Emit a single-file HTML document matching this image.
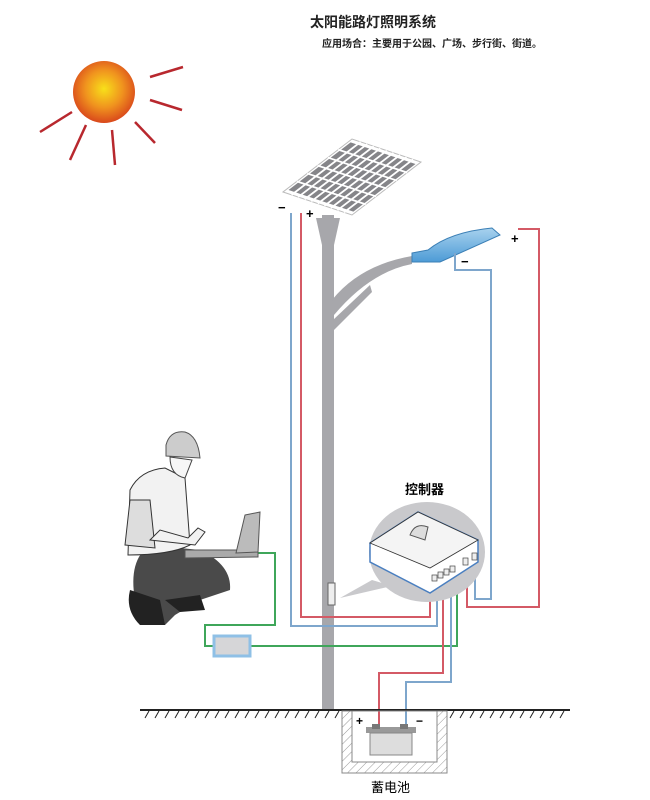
<!DOCTYPE html>
<html><head><meta charset="utf-8"><style>
body{margin:0;background:#fff;}
svg{display:block}
text{font-family:"Liberation Sans","Noto Sans CJK SC",sans-serif;}
</style></head><body>
<svg width="650" height="800" viewBox="0 0 650 800" xmlns="http://www.w3.org/2000/svg">
<defs>
<radialGradient id="sun" cx="50%" cy="45%" r="55%"><stop offset="0" stop-color="#f8e01a"/><stop offset="0.55" stop-color="#f0931e"/><stop offset="1" stop-color="#d9481c"/></radialGradient>
<pattern id="hatch" width="6" height="6" patternUnits="userSpaceOnUse" patternTransform="rotate(45)"><line x1="0" y1="0" x2="0" y2="6" stroke="#999" stroke-width="1"/></pattern>
<linearGradient id="lamp" x1="0" y1="0" x2="0" y2="1"><stop offset="0" stop-color="#a8d2ee"/><stop offset="1" stop-color="#4d9bd6"/></linearGradient>
</defs>
<text x="310" y="27" font-size="14" font-weight="bold" fill="#222">太阳能路灯照明系统</text>
<text x="322" y="47" font-size="10" fill="#222" font-weight="bold">应用场合：主要用于公园、广场、步行街、街道。</text>
<!-- sun -->
<g stroke="#b8282e" stroke-width="2.5">
<line x1="150" y1="77" x2="183" y2="67"/><line x1="150" y1="100" x2="182" y2="110"/>
<line x1="135" y1="122" x2="155" y2="143"/><line x1="112" y1="130" x2="115" y2="165"/>
<line x1="86" y1="125" x2="70" y2="160"/><line x1="72" y1="112" x2="40" y2="132"/>
</g>
<circle cx="104" cy="92" r="31" fill="url(#sun)"/>
<!-- pole -->
<rect x="322" y="215" width="12" height="495" fill="#a7a7ab"/>
<path d="M316 218 L340 218 L334 245 L322 245Z" fill="#a7a7ab"/>
<path d="M332 300 Q360 265 412 256 L412 264 Q370 272 334 315Z" fill="#a7a7ab"/>
<path d="M333 320 L370 285 L372 292 L334 330Z" fill="#a7a7ab"/>
<rect x="328" y="583" width="7" height="22" fill="#eee" stroke="#666"/>
<!-- panel -->
<g transform="matrix(69,23,69,-53,283,192)">
<polygon points="0,0 1,0 1,1 0,1" fill="#fff" stroke="#bbb" stroke-width="1" vector-effect="non-scaling-stroke"/>
<polygon points="0.03,0.05 0.97,0.05 0.97,0.95 0.03,0.95" fill="#858589"/>
<path d="M0.125 0V1 M0.22 0V1 M0.315 0V1 M0.41 0V1 M0.505 0V1 M0.6 0V1 M0.695 0V1 M0.79 0V1 M0.885 0V1 M0 0.2H1 M0 0.35H1 M0 0.5H1 M0 0.65H1 M0 0.8H1" stroke="#fff" stroke-width="1.8" vector-effect="non-scaling-stroke"/>
</g>
<!-- lamp head -->
<path d="M412 253 L428 250 Q450 232 492 228 L500 235 L440 262 L412 262Z" fill="url(#lamp)" stroke="#3b7fb5"/>
<!-- wires -->
<g fill="none" stroke-width="2">
<polyline points="291,213 291,626 437,626 437,590" stroke="#7ea6cc"/>
<polyline points="301,213 301,617 430,617 430,590" stroke="#d45a66"/>
<polyline points="455,253 455,270 491,270 491,599 475,599 475,565" stroke="#7ea6cc"/>
<polyline points="518,229 539,229 539,607 467,607 467,565" stroke="#d45a66"/>
<polyline points="258,553 275,553 275,625 205,625 205,646 214,646" stroke="#3fa65a"/>
<polyline points="250,646 457,646 457,575" stroke="#3fa65a"/>
<polyline points="443,585 443,673 379,673 379,725" stroke="#d45a66"/>
<polyline points="451,585 451,682 406,682 406,725" stroke="#7ea6cc"/>
</g>
<text x="278" y="212" font-size="13" font-weight="bold">−</text>
<text x="306" y="218" font-size="13" font-weight="bold">+</text>
<text x="461" y="266" font-size="13" font-weight="bold">−</text>
<text x="511" y="243" font-size="13" font-weight="bold">+</text>
<!-- controller -->
<text x="405" y="494" font-size="13" font-weight="bold">控制器</text>
<ellipse cx="427" cy="552" rx="58" ry="50" fill="#c9c9cc"/>
<polygon points="372,580 340,598 392,586" fill="#c9c9cc"/>
<path d="M370 543 L418 512 L478 540 L478 562 L430 593 L370 562Z" fill="#fff" stroke="#4a7fc0" stroke-width="1.5"/>
<path d="M370 543 L418 512 L478 540 L430 568Z" fill="#f4f4f4" stroke="#333" stroke-width="0.8"/>
<path d="M410 535 Q415 522 428 527 L425 540Z" fill="#ddd" stroke="#555"/>
<g fill="#eee" stroke="#444" stroke-width="0.7">
<rect x="432" y="575" width="5" height="6"/><rect x="438" y="572" width="5" height="6"/><rect x="444" y="569" width="5" height="6"/><rect x="450" y="566" width="5" height="6"/>
<rect x="463" y="558" width="5" height="7"/><rect x="472" y="553" width="5" height="7"/>
</g>
<!-- laptop box -->
<rect x="214" y="636" width="36" height="20" fill="#d6d6d8" stroke="#8fc0e6" stroke-width="3"/>
<!-- ground -->
<line x1="140" y1="710" x2="570" y2="710" stroke="#222" stroke-width="2"/>
<g stroke="#222" stroke-width="1">
<path d="M145 718 l4 -7 M155 718 l4 -7 M165 718 l4 -7 M175 718 l4 -7 M185 718 l4 -7 M195 718 l4 -7 M205 718 l4 -7 M215 718 l4 -7 M225 718 l4 -7 M235 718 l4 -7 M245 718 l4 -7 M255 718 l4 -7 M265 718 l4 -7 M275 718 l4 -7 M285 718 l4 -7 M295 718 l4 -7 M305 718 l4 -7 M315 718 l4 -7 M325 718 l4 -7 M335 718 l4 -7"/>
<path d="M450 718 l4 -7 M460 718 l4 -7 M470 718 l4 -7 M480 718 l4 -7 M490 718 l4 -7 M500 718 l4 -7 M510 718 l4 -7 M520 718 l4 -7 M530 718 l4 -7 M540 718 l4 -7 M550 718 l4 -7 M560 718 l4 -7"/>
</g>
<path d="M342 711 L447 711 L447 773 L342 773Z M352 711 L352 762 L437 762 L437 711Z" fill="url(#hatch)" fill-rule="evenodd" stroke="#888"/>
<rect x="366" y="727" width="50" height="6" fill="#999"/>
<rect x="372" y="724" width="8" height="5" fill="#777"/><rect x="400" y="724" width="8" height="5" fill="#777"/>
<rect x="370" y="733" width="42" height="22" fill="#ddd" stroke="#888"/>
<text x="356" y="725" font-size="12" font-weight="bold">+</text>
<text x="416" y="725" font-size="12" font-weight="bold">−</text>
<text x="371" y="792" font-size="13">蓄电池</text>
<!-- person -->
<path d="M135 600 Q128 560 150 545 L200 550 Q232 565 230 590 L200 600 L175 615 L165 625 L140 625Z" fill="#4a4a4a"/>
<path d="M130 590 Q125 610 140 625 L165 625 L160 600Z" fill="#222"/>
<path d="M165 600 L200 595 L205 610 L180 612Z" fill="#222"/>
<path d="M130 490 Q140 470 165 468 L185 478 L190 545 Q170 555 128 555 Z" fill="#f2f2f2" stroke="#333"/>
<path d="M130 500 L125 545 L155 548 L150 500Z" fill="#ddd" stroke="#333"/>
<path d="M150 540 L195 545 L205 532 L198 528 L188 538 L160 530Z" fill="#f2f2f2" stroke="#333"/>
<path d="M166 445 Q170 430 185 432 Q198 436 200 458 L166 456Z" fill="#ccc" stroke="#555"/>
<path d="M170 457 Q170 475 185 478 L192 460Z" fill="#f6f6f6" stroke="#444"/>
<path d="M185 550 L258 550 L258 557 L185 558Z" fill="#aaa" stroke="#555"/>
<path d="M245 515 L260 512 L258 552 L236 553Z" fill="#bbb" stroke="#555"/>
</svg>
</body></html>
